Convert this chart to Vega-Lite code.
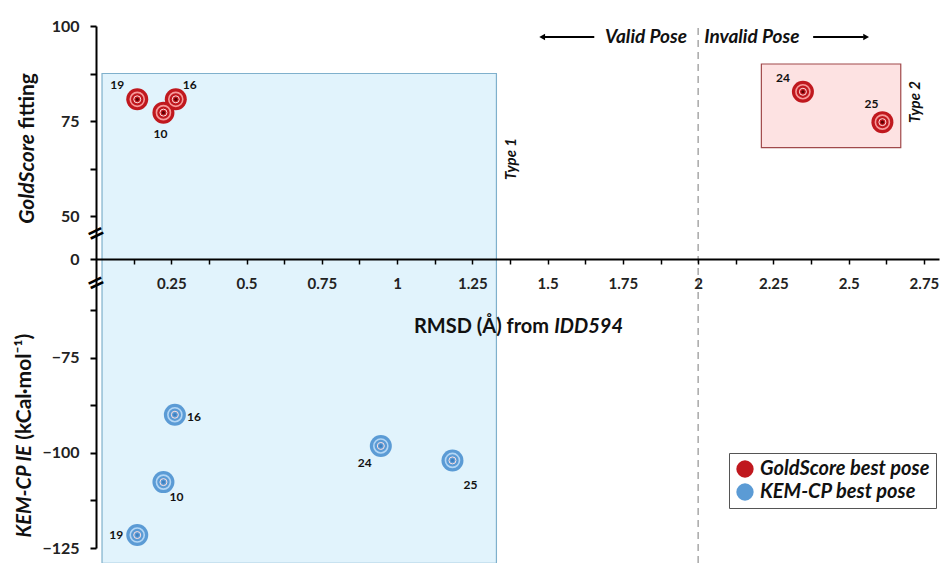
{
  "$schema": "https://vega.github.io/schema/vega-lite/v6.json",
  "width": 843,
  "height": 522,
  "autosize": "none",
  "padding": {"left": 96, "top": 26, "right": 6, "bottom": 15},
  "background": "white",
  "config": {"view": {"stroke": null}, "font": "Lato"},
  "datasets": {
    "poses": [
      {"series": "GoldScore best pose", "id": "19", "rmsd": 0.137, "score": 80.7},
      {"series": "GoldScore best pose", "id": "16", "rmsd": 0.265, "score": 80.7},
      {"series": "GoldScore best pose", "id": "10", "rmsd": 0.224, "score": 77.2},
      {"series": "GoldScore best pose", "id": "24", "rmsd": 2.348, "score": 82.7},
      {"series": "GoldScore best pose", "id": "25", "rmsd": 2.612, "score": 74.7},
      {"series": "KEM-CP best pose", "id": "16", "rmsd": 0.262, "score": -90.0},
      {"series": "KEM-CP best pose", "id": "10", "rmsd": 0.224, "score": -107.7},
      {"series": "KEM-CP best pose", "id": "19", "rmsd": 0.137, "score": -121.6},
      {"series": "KEM-CP best pose", "id": "24", "rmsd": 0.946, "score": -98.2},
      {"series": "KEM-CP best pose", "id": "25", "rmsd": 1.184, "score": -102.0}
    ]
  },
  "data": {"name": "poses"},
  "layer": [
    {
      "data": {"values": [{"region": "Type 1", "x1": 0.02, "x2": 1.33, "y1": 87.5, "y2": -129}]},
      "mark": {"type": "rect", "fill": "#e1f3fc", "stroke": "#7fb0cc", "strokeWidth": 1.2},
      "encoding": {
        "x": {"field": "x1", "type": "quantitative", "scale": {"domain": [0, 2.8], "nice": false, "zero": false},
          "axis": {
            "orient": "bottom", "offset": -289, "zindex": 1, "title": null, "grid": false,
            "values": [0.125, 0.25, 0.375, 0.5, 0.625, 0.75, 0.875, 1, 1.125, 1.25, 1.375, 1.5, 1.625, 1.75, 1.875, 2, 2.125, 2.25, 2.375, 2.5, 2.625, 2.75],
            "labelExpr": "abs(datum.value*4 - round(datum.value*4)) < 0.001 ? format(datum.value, '') : ''",
            "domainColor": "#000", "domainWidth": 2, "tickColor": "#000", "tickWidth": 1.5, "tickSize": 5,
            "labelFont": "Lato", "labelFontSize": 15, "labelFontWeight": "bold", "labelColor": "#222", "labelPadding": 12
          }},
        "x2": {"field": "x2"},
        "y": {"field": "y1", "type": "quantitative",
          "scale": {"domain": [-125, -62.5, 0, 50, 100], "range": [522, 284, 233, 190, 0], "nice": false, "zero": false},
          "axis": {
            "orient": "left", "zindex": 1, "title": null, "grid": false,
            "values": [100, 87.5, 75, 62.5, 50, 0, -62.5, -75, -87.5, -100, -112.5, -125],
            "labelExpr": "indexof([100, 75, 50, 0, -75, -100, -125], datum.value) >= 0 ? datum.label : ''",
            "domainColor": "#000", "domainWidth": 2, "tickColor": "#000", "tickWidth": 2, "tickSize": 6,
            "labelFont": "Lato", "labelFontSize": 16, "labelFontWeight": "bold", "labelColor": "#222", "labelPadding": 11
          }},
        "y2": {"field": "y2"}
      }
    },
    {
      "data": {"values": [{"region": "Type 2", "x1": 2.21, "x2": 2.673, "y1": 90, "y2": 68}]},
      "mark": {"type": "rect", "fill": "#fde2e2", "stroke": "#a0494a", "strokeWidth": 1.2},
      "encoding": {
        "x": {"field": "x1", "type": "quantitative"},
        "x2": {"field": "x2"},
        "y": {"field": "y1", "type": "quantitative"},
        "y2": {"field": "y2"}
      }
    },
    {
      "data": {"values": [{}]},
      "mark": {"type": "rule", "color": "#9a9a9a", "strokeDash": [7, 5], "strokeWidth": 1.3},
      "encoding": {"x": {"datum": 2}, "y": {"datum": 99.5}, "y2": {"datum": -129}}
    },
    {
      "data": {"values": [{}]},
      "mark": {"type": "rule", "color": "#000", "strokeWidth": 2},
      "encoding": {"x": {"datum": 1.49}, "x2": {"datum": 1.655}, "y": {"datum": 97.1}}
    },
    {
      "data": {"values": [{}]},
      "mark": {"type": "rule", "color": "#000", "strokeWidth": 2},
      "encoding": {"x": {"datum": 2.382}, "x2": {"datum": 2.55}, "y": {"datum": 97.1}}
    },
    {
      "data": {"values": [{}]},
      "mark": {"type": "point", "shape": "triangle-left", "filled": true, "color": "#000", "size": 45, "opacity": 1},
      "encoding": {"x": {"datum": 1.482}, "y": {"datum": 97.1}}
    },
    {
      "data": {"values": [{}]},
      "mark": {"type": "point", "shape": "triangle-right", "filled": true, "color": "#000", "size": 45, "opacity": 1},
      "encoding": {"x": {"datum": 2.558}, "y": {"datum": 97.1}}
    },
    {
      "data": {"values": [{}]},
      "mark": {"type": "text", "align": "right", "baseline": "middle", "font": "Lato", "fontSize": 19, "fontWeight": "bold", "fontStyle": "italic", "color": "#111"},
      "encoding": {"x": {"datum": 1.963}, "y": {"datum": 97.1}, "text": {"value": "Valid Pose"}}
    },
    {
      "data": {"values": [{}]},
      "mark": {"type": "text", "align": "left", "baseline": "middle", "font": "Lato", "fontSize": 19, "fontWeight": "bold", "fontStyle": "italic", "color": "#111"},
      "encoding": {"x": {"datum": 2.02}, "y": {"datum": 97.1}, "text": {"value": "Invalid Pose"}}
    },
    {
      "data": {"values": [{}]},
      "mark": {"type": "text", "angle": 270, "align": "center", "baseline": "middle", "font": "Lato", "fontSize": 15, "fontWeight": "bold", "fontStyle": "italic", "color": "#111"},
      "encoding": {"x": {"datum": 1.38}, "y": {"datum": 65}, "text": {"value": "Type 1"}}
    },
    {
      "data": {"values": [{}]},
      "mark": {"type": "text", "angle": 270, "align": "center", "baseline": "middle", "font": "Lato", "fontSize": 15, "fontWeight": "bold", "fontStyle": "italic", "color": "#111"},
      "encoding": {"x": {"datum": 2.72}, "y": {"datum": 80}, "text": {"value": "Type 2"}}
    },
    {
      "data": {"values": [{}]},
      "mark": {"type": "text", "align": "right", "baseline": "middle", "font": "Lato", "fontSize": 20, "fontWeight": "bold", "color": "#111"},
      "encoding": {"x": {"datum": 1.505}, "y": {"datum": -67}, "text": {"value": "RMSD (Å) from"}}
    },
    {
      "data": {"values": [{}]},
      "mark": {"type": "text", "align": "left", "baseline": "middle", "font": "Lato", "fontSize": 20, "fontWeight": "bold", "fontStyle": "italic", "color": "#111"},
      "encoding": {"x": {"datum": 1.522}, "y": {"datum": -67}, "text": {"value": "IDD594"}}
    },
    {
      "data": {"values": [{}]},
      "mark": {"type": "text", "angle": 270, "align": "right", "baseline": "middle", "font": "Lato", "fontSize": 21, "fontWeight": "bold", "fontStyle": "italic", "color": "#111"},
      "encoding": {"x": {"datum": -0.226}, "y": {"datum": 71.6}, "text": {"value": "GoldScore"}}
    },
    {
      "data": {"values": [{}]},
      "mark": {"type": "text", "angle": 270, "align": "left", "baseline": "middle", "font": "Lato", "fontSize": 21, "fontWeight": "bold", "color": "#111"},
      "encoding": {"x": {"datum": -0.226}, "y": {"datum": 72.9}, "text": {"value": "fitting"}}
    },
    {
      "data": {"values": [{}]},
      "mark": {"type": "text", "angle": 270, "align": "right", "baseline": "middle", "font": "Lato", "fontSize": 20, "fontWeight": "bold", "fontStyle": "italic", "color": "#111"},
      "encoding": {"x": {"datum": -0.236}, "y": {"datum": -98.0}, "text": {"value": "KEM-CP IE"}}
    },
    {
      "data": {"values": [{}]},
      "mark": {"type": "text", "angle": 270, "align": "left", "baseline": "middle", "font": "Lato", "fontSize": 21, "fontWeight": "bold", "color": "#111"},
      "encoding": {"x": {"datum": -0.236}, "y": {"datum": -96.6}, "text": {"value": "(kCal·mol⁻¹)"}}
    },
    {
      "data": {"values": [{}]},
      "mark": {"type": "text", "angle": 335, "align": "center", "baseline": "middle", "font": "DejaVu Sans", "fontSize": 22, "fontWeight": "bold", "color": "#000"},
      "encoding": {"x": {"datum": 0}, "y": {"datum": 30}, "text": {"value": "="}}
    },
    {
      "data": {"values": [{}]},
      "mark": {"type": "text", "angle": 335, "align": "center", "baseline": "middle", "font": "DejaVu Sans", "fontSize": 22, "fontWeight": "bold", "color": "#000"},
      "encoding": {"x": {"datum": 0}, "y": {"datum": -29}, "text": {"value": "="}}
    },
    {
      "mark": {"type": "point", "filled": true, "size": 484, "opacity": 1, "strokeWidth": 0},
      "encoding": {
        "x": {"field": "rmsd", "type": "quantitative"},
        "y": {"field": "score", "type": "quantitative"},
        "color": {"field": "series", "type": "nominal",
          "scale": {"domain": ["GoldScore best pose", "KEM-CP best pose"], "range": ["#c0181e", "#5b9bd5"]},
          "legend": {
            "title": null, "orient": "none", "legendX": 633, "legendY": 427,
            "labelFont": "Lato", "labelFontSize": 20, "labelFontStyle": "italic", "labelFontWeight": "bold", "labelColor": "#111",
            "symbolType": "circle", "symbolSize": 300, "symbolStrokeWidth": 0, "symbolOpacity": 1,
            "strokeColor": "#555", "fillColor": "white", "padding": 6, "rowPadding": 3, "labelOffset": 5, "labelLimit": 300
          }}
      }
    },
    {
      "mark": {"type": "point", "filled": false, "size": 196, "opacity": 1, "strokeWidth": 1.6},
      "encoding": {
        "x": {"field": "rmsd", "type": "quantitative"},
        "y": {"field": "score", "type": "quantitative"},
        "stroke": {"field": "series", "type": "nominal",
          "scale": {"domain": ["GoldScore best pose", "KEM-CP best pose"], "range": ["#f79a9a", "#b3d6f5"]},
          "legend": null}
      }
    },
    {
      "mark": {"type": "point", "filled": false, "size": 49, "opacity": 1, "strokeWidth": 1, "stroke": "#ffe0e0"},
      "encoding": {
        "x": {"field": "rmsd", "type": "quantitative"},
        "y": {"field": "score", "type": "quantitative"}
      }
    },
    {
      "mark": {"type": "point", "filled": true, "size": 10, "opacity": 1, "strokeWidth": 0},
      "encoding": {
        "x": {"field": "rmsd", "type": "quantitative"},
        "y": {"field": "score", "type": "quantitative"},
        "fill": {"field": "series", "type": "nominal",
          "scale": {"domain": ["GoldScore best pose", "KEM-CP best pose"], "range": ["#5a0000", "#3f7fc0"]},
          "legend": null}
      }
    },
    {
      "transform": [{"filter": "datum.series == 'GoldScore best pose' && (datum.id == '19' || datum.id == '24')"}],
      "mark": {"type": "text", "dx": -20, "dy": -14, "font": "Lato", "fontSize": 12, "fontWeight": "bold", "color": "#111"},
      "encoding": {"x": {"field": "rmsd", "type": "quantitative"}, "y": {"field": "score", "type": "quantitative"}, "text": {"field": "id"}}
    },
    {
      "transform": [{"filter": "datum.series == 'GoldScore best pose' && datum.id == '16'"}],
      "mark": {"type": "text", "dx": 14, "dy": -14, "font": "Lato", "fontSize": 12, "fontWeight": "bold", "color": "#111"},
      "encoding": {"x": {"field": "rmsd", "type": "quantitative"}, "y": {"field": "score", "type": "quantitative"}, "text": {"field": "id"}}
    },
    {
      "transform": [{"filter": "datum.series == 'GoldScore best pose' && datum.id == '10'"}],
      "mark": {"type": "text", "dx": -3, "dy": 21, "font": "Lato", "fontSize": 12, "fontWeight": "bold", "color": "#111"},
      "encoding": {"x": {"field": "rmsd", "type": "quantitative"}, "y": {"field": "score", "type": "quantitative"}, "text": {"field": "id"}}
    },
    {
      "transform": [{"filter": "datum.series == 'GoldScore best pose' && datum.id == '25'"}],
      "mark": {"type": "text", "dx": -11, "dy": -18, "font": "Lato", "fontSize": 12, "fontWeight": "bold", "color": "#111"},
      "encoding": {"x": {"field": "rmsd", "type": "quantitative"}, "y": {"field": "score", "type": "quantitative"}, "text": {"field": "id"}}
    },
    {
      "transform": [{"filter": "datum.series == 'KEM-CP best pose' && datum.id == '16'"}],
      "mark": {"type": "text", "dx": 19, "dy": 2, "font": "Lato", "fontSize": 12, "fontWeight": "bold", "color": "#111"},
      "encoding": {"x": {"field": "rmsd", "type": "quantitative"}, "y": {"field": "score", "type": "quantitative"}, "text": {"field": "id"}}
    },
    {
      "transform": [{"filter": "datum.series == 'KEM-CP best pose' && datum.id == '19'"}],
      "mark": {"type": "text", "dx": -21, "dy": 0, "font": "Lato", "fontSize": 12, "fontWeight": "bold", "color": "#111"},
      "encoding": {"x": {"field": "rmsd", "type": "quantitative"}, "y": {"field": "score", "type": "quantitative"}, "text": {"field": "id"}}
    },
    {
      "transform": [{"filter": "datum.series == 'KEM-CP best pose' && datum.id == '10'"}],
      "mark": {"type": "text", "dx": 13, "dy": 15, "font": "Lato", "fontSize": 12, "fontWeight": "bold", "color": "#111"},
      "encoding": {"x": {"field": "rmsd", "type": "quantitative"}, "y": {"field": "score", "type": "quantitative"}, "text": {"field": "id"}}
    },
    {
      "transform": [{"filter": "datum.series == 'KEM-CP best pose' && datum.id == '24'"}],
      "mark": {"type": "text", "dx": -16, "dy": 17, "font": "Lato", "fontSize": 12, "fontWeight": "bold", "color": "#111"},
      "encoding": {"x": {"field": "rmsd", "type": "quantitative"}, "y": {"field": "score", "type": "quantitative"}, "text": {"field": "id"}}
    },
    {
      "transform": [{"filter": "datum.series == 'KEM-CP best pose' && datum.id == '25'"}],
      "mark": {"type": "text", "dx": 18, "dy": 25, "font": "Lato", "fontSize": 12, "fontWeight": "bold", "color": "#111"},
      "encoding": {"x": {"field": "rmsd", "type": "quantitative"}, "y": {"field": "score", "type": "quantitative"}, "text": {"field": "id"}}
    }
  ]
}
